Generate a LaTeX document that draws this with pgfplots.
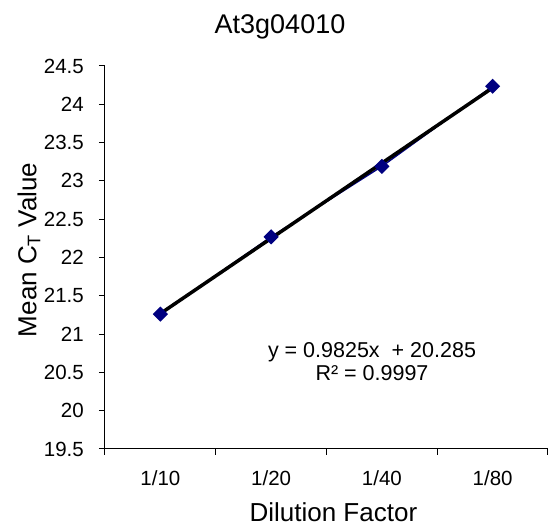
\documentclass[border=0pt]{standalone}
\usepackage{fontspec}
\setmainfont{Liberation Sans}
\usepackage{pgfplots}
\pgfplotsset{compat=1.18}
\definecolor{excelnavy}{HTML}{000080}
\begin{document}
\begin{tikzpicture}
\path (-105pt,-80pt) rectangle (453pt,449pt);
\begin{axis}[
  at={(0pt,0pt)}, anchor=south west,
  scale only axis, width=443pt, height=383pt,
  xmin=0.5, xmax=4.5, ymin=19.5, ymax=24.5,
  axis lines*=left,
  axis line style={line width=1pt, -},
  xtick={0.5,1.5,2.5,3.5,4.5},
  xticklabels={},
  extra x ticks={1,2,3,4},
  extra x tick labels={1/10,1/20,1/40,1/80},
  extra x tick style={major tick length=0pt, tick style={draw=none}},
  ytick={19.5,20,...,24.5},
  tick align=outside,
  major tick length=6pt,
  tick style={line width=1pt, black},
  /pgf/number format/assume math mode=true,
  ticklabel style={font=\fontsize{20.5}{24}\selectfont},
  xticklabel style={anchor=center, yshift=-29pt},
  yticklabel style={anchor=east, inner sep=0pt, xshift=-15pt},
  xlabel={Dilution Factor},
  ylabel={Mean C\textsubscript{T} Value},
  label style={font=\fontsize{26}{30}\selectfont},
  xlabel style={at={(axis description cs:0.5156,0)}, anchor=center, yshift=-63pt},
  ylabel style={at={(axis description cs:-0.1716,0.52)}, anchor=center},
  clip=false,
]
\addplot[excelnavy, line width=1.5pt, mark=square*, mark size=4.6pt,
  mark options={rotate=45, fill=excelnavy, draw=excelnavy}]
  coordinates {(1,21.26) (2,22.27) (3,23.19) (4,24.235)};
\addplot[black, line width=3.5pt] coordinates {(1,21.2675) (4,24.215)};
\end{axis}
\node[font=\fontsize{27}{32}\selectfont] at (175pt,422pt) {At3g04010};
\node[font=\fontsize{21.5}{25}\selectfont, align=center] at (267pt,87pt)
  {y = 0.9825x \ + 20.285\\[-2pt]R² = 0.9997};
\end{tikzpicture}
\end{document}
